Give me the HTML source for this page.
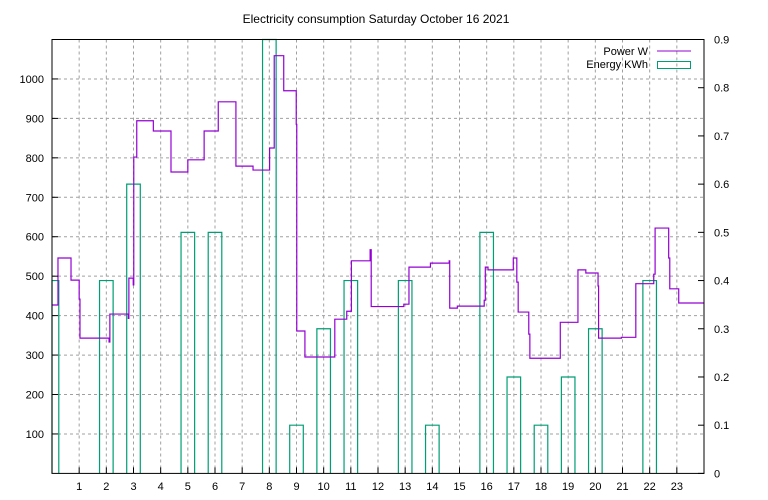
<!DOCTYPE html>
<html><head><meta charset="utf-8"><style>
body{margin:0;background:#fff;}
svg{display:block;font-family:"Liberation Sans","DejaVu Sans",sans-serif;font-size:11px;}
</style></head><body>
<svg id="chart" width="768" height="500" viewBox="0 0 768 500">
<text x="376" y="23" text-anchor="middle" style="font-size:12px">Electricity consumption Saturday October 16 2021</text>
<g id="grid"></g>
<g id="energy"></g>
<g id="power"></g>
<g id="axes"></g>
<g>
<text x="648" y="55" text-anchor="end">Power W</text>
<line x1="657" y1="51" x2="691" y2="51" stroke="#9400d3" stroke-width="1"/>
<text x="648" y="68" text-anchor="end">Energy KWh</text>
<rect x="657.5" y="61.5" width="33" height="7" fill="none" stroke="#009e73" stroke-width="1"/>
</g>
</svg>
<script>
const hours=[0,1,2,3,4,5,6,7,8,9,10,11,12,13,14,15,16,17,18,19,20,21,22,23];
const energyValues=[0.4,0,0.4,0.6,0,0.5,0.5,0,1.0,0.1,0.3,0.4,0,0.4,0.1,0,0.5,0.2,0.1,0.2,0.3,0,0.4,0];
const powerTimes=[0,0.22,0.70,1.0,1.03,2.10,2.13,2.81,2.83,2.99,3.01,3.12,3.73,4.38,5.0,5.60,6.12,6.77,7.40,8.01,8.18,8.53,8.99,9.01,9.31,10.41,10.85,11.02,11.71,11.75,12.95,13.14,13.93,14.62,14.64,14.92,15.91,15.95,16.05,16.98,17.11,17.16,17.55,17.59,18.71,19.36,19.65,20.10,20.12,20.96,21.49,22.15,22.20,22.70,22.74,23.07,24];
const powerValues=[427,546,490,442,343,333,404,393,495,478,802,894,868,764,795,868,942,779,769,825,1059,970,885,361,295,391,411,539,567,423,429,523,533,539,419,424,439,523,516,546,485,409,353,292,383,516,508,475,343,345,481,505,622,546,468,432,432];
const wTicks=[100,200,300,400,500,600,700,800,900,1000];
const eTicks=["0","0.1","0.2","0.3","0.4","0.5","0.6","0.7","0.8","0.9"];
const xTicks=[1,2,3,4,5,6,7,8,9,10,11,12,13,14,15,16,17,18,19,20,21,22,23];
const L=52,R=704,T=39.5,B=473.4;
const x=t=>L+(R-L)*t/24;
const yW=w=>B-(B-T)*w/1100;
const yE=e=>B-(B-T)*e/0.9;
const NS="http://www.w3.org/2000/svg";
function mk(tag,attrs,parent){const el=document.createElementNS(NS,tag);for(const k in attrs)el.setAttribute(k,attrs[k]);parent.appendChild(el);return el;}
const grid=document.getElementById('grid'),axes=document.getElementById('axes');
xTicks.forEach(h=>{
  const el=mk('line',{x1:x(h),x2:x(h),y1:T,y2:B,stroke:'#a0a0a0','stroke-dasharray':'3,3','stroke-width':1},grid);
  
  
  const tk=mk('line',{x1:x(h),x2:x(h),y1:B,y2:B-6,stroke:'#000'},axes);
  
  
  const tx=mk('text',{x:x(h),y:490,'text-anchor':'middle'},axes);tx.textContent=h;
  
  
});
wTicks.forEach(w=>{
  const el=mk('line',{x1:L,x2:R,y1:yW(w),y2:yW(w),stroke:'#a0a0a0','stroke-dasharray':'3,3','stroke-width':1},grid);
  
  
  const tk=mk('line',{x1:L,x2:L+6,y1:yW(w),y2:yW(w),stroke:'#000'},axes);
  
  
  const tx=mk('text',{x:44,y:yW(w)+4,'text-anchor':'end'},axes);tx.textContent=w;
  
  
});
eTicks.forEach(s=>{
  const v=parseFloat(s);
  const tk=mk('line',{x1:R,x2:R-6,y1:yE(v),y2:yE(v),stroke:'#000'},axes);
  
  
  const tx=mk('text',{x:714,y:yE(v)+4,'text-anchor':'start'},axes);tx.textContent=s;
  
  
});
const frame=mk('rect',{x:L,y:T,width:R-L,height:B-T,fill:'none',stroke:'#000','stroke-width':1},axes);


const eg=document.getElementById('energy');
hours.forEach((h,i)=>{
  const v=energyValues[i];if(v<=0)return;
  const x0=Math.max(L,x(h-0.25)),x1=x(h+0.25),yt=Math.max(T,yE(v));
  const p=mk('path',{d:`M${x0},${B} L${x0},${yt} L${x1},${yt} L${x1},${B}`,fill:'none',stroke:'#009e73','stroke-width':1.2},eg);
  
  
});
let d='';
powerTimes.forEach((t,i)=>{
  const px=x(t),py=Math.max(T,yW(powerValues[i]));
  if(i===0)d+=`M${px},${py}`;else d+=` L${px},${Math.max(T,yW(powerValues[i-1]))} L${px},${py}`;
});
const pl=mk('path',{d:d,fill:'none',stroke:'#9400d3','stroke-width':1.2},document.getElementById('power'));


</script>
</body></html>
